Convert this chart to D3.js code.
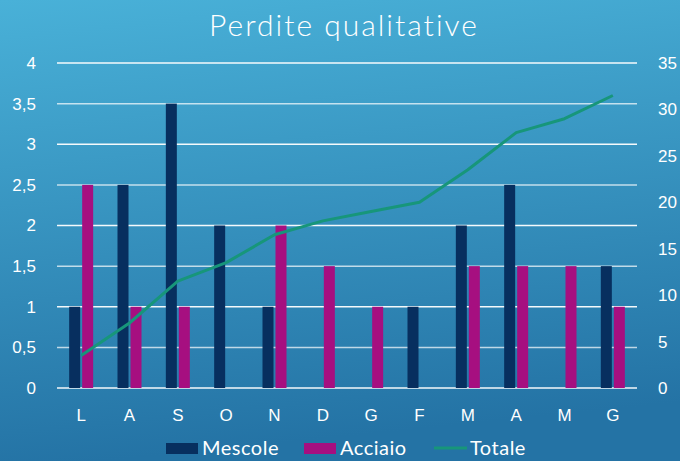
<!DOCTYPE html>
<html>
<head>
<meta charset="utf-8">
<script src="https://cdn.jsdelivr.net/npm/d3@7"></script>
<style>
  html, body { margin: 0; padding: 0; }
  body { width: 680px; height: 461px; overflow: hidden; font-family: "Lato", "Open Sans", sans-serif; }
  .axis text { fill: #fff; font-size: 17px; }
</style>
</head>
<body>
<div id="chart"></div>
<script>
var months = ['L', 'A', 'S', 'O', 'N', 'D', 'G', 'F', 'M', 'A', 'M', 'G'];
var mescole = [1, 2.5, 3.5, 2, 1, 0, 0, 1, 2, 2.5, 0, 1.5];
var acciaio = [2.5, 1, 1, 0, 2, 1.5, 1, 0, 1.5, 1.5, 1.5, 1];
var totale = [3.5, 7, 11.5, 13.5, 16.5, 18, 19, 20, 23.5, 27.5, 29, 31.5];
var leftTicks = [0, 0.5, 1, 1.5, 2, 2.5, 3, 3.5, 4];
var rightTicks = [0, 5, 10, 15, 20, 25, 30, 35];

var width = 680, height = 461;
var margin = { top: 63, right: 43, bottom: 73, left: 57 };
var innerW = width - margin.left - margin.right;
var innerH = height - margin.top - margin.bottom;

var colors = { mescole: '#072f5f', acciaio: '#a60f80', totale: '#17967a' };

var svg = d3.select('#chart').append('svg')
  .attr('width', width)
  .attr('height', height);

var grad = svg.append('defs').append('linearGradient')
  .attr('id', 'bg').attr('x1', 0).attr('y1', 0).attr('x2', 0.15).attr('y2', 1);
grad.append('stop').attr('offset', '0%').attr('stop-color', '#49b1d8');
grad.append('stop').attr('offset', '100%').attr('stop-color', '#2473a5');

svg.append('rect').attr('width', width).attr('height', height).attr('fill', 'url(#bg)');

svg.append('text')
  .attr('x', width / 2 + 4).attr('y', 36)
  .attr('text-anchor', 'middle')
  .attr('fill', '#fff')
  .style('font-size', '30px')
  .style('font-weight', 300)
  .style('letter-spacing', '2px')
  .text('Perdite qualitative');

var g = svg.append('g').attr('transform', 'translate(' + margin.left + ',' + margin.top + ')');

var x = d3.scaleBand().domain(d3.range(months.length)).range([0, innerW]);
var y = d3.scaleLinear().domain([0, 4]).range([innerH, 0]);
var y2 = d3.scaleLinear().domain([0, 35]).range([innerH, 0]);
var fmt = function(d) { return String(d).replace('.', ','); };

// gridlines
g.append('g').selectAll('line')
  .data(leftTicks)
  .enter().append('line')
  .attr('x1', 0).attr('x2', innerW)
  .attr('y1', function(d) { return y(d); })
  .attr('y2', function(d) { return y(d); })
  .attr('stroke', '#fff')
  .attr('stroke-opacity', function(d, i) { return i % 2 ? 0.7 : 0.95; })
  .attr('stroke-width', 1.5);

// axes
var yAxis = g.append('g').attr('class', 'axis')
  .attr('transform', 'translate(-18,0)')
  .call(d3.axisLeft(y).tickValues(leftTicks).tickFormat(fmt).tickSize(0));
var y2Axis = g.append('g').attr('class', 'axis')
  .attr('transform', 'translate(' + (innerW + 18) + ',0)')
  .call(d3.axisRight(y2).tickValues(rightTicks).tickSize(0));
var xAxis = g.append('g').attr('class', 'axis')
  .attr('transform', 'translate(0,' + (innerH + 15) + ')')
  .call(d3.axisBottom(x).tickFormat(function(i) { return months[i]; }).tickSize(0));
g.selectAll('.axis .domain').remove();
xAxis.selectAll('text').attr('dy', '0.9em');

// bars
var bw = 11, gap = 2;
g.append('g').selectAll('rect')
  .data(mescole)
  .enter().append('rect')
  .attr('x', function(d, i) { return x(i) + x.bandwidth() / 2 - bw - gap / 2; })
  .attr('y', function(d) { return y(d); })
  .attr('width', bw)
  .attr('height', function(d) { return innerH - y(d); })
  .attr('fill', colors.mescole);
g.append('g').selectAll('rect')
  .data(acciaio)
  .enter().append('rect')
  .attr('x', function(d, i) { return x(i) + x.bandwidth() / 2 + gap / 2; })
  .attr('y', function(d) { return y(d); })
  .attr('width', bw)
  .attr('height', function(d) { return innerH - y(d); })
  .attr('fill', colors.acciaio);

// line
var line = d3.line()
  .x(function(d, i) { return x(i) + x.bandwidth() / 2; })
  .y(function(d) { return y2(d); });
g.append('path')
  .datum(totale)
  .attr('d', line)
  .attr('fill', 'none')
  .attr('stroke', colors.totale)
  .attr('stroke-width', 3)
  .attr('stroke-linejoin', 'round');

// legend
var leg = svg.append('g').attr('transform', 'translate(0,448)');
var items = [
  { name: 'Mescole', color: colors.mescole, type: 'rect', x: 166 },
  { name: 'Acciaio', color: colors.acciaio, type: 'rect', x: 304 },
  { name: 'Totale', color: colors.totale, type: 'line', x: 434 }
];
items.forEach(function(it) {
  if (it.type === 'rect') {
    leg.append('rect').attr('x', it.x).attr('y', -5).attr('width', 32).attr('height', 11).attr('fill', it.color);
  } else {
    leg.append('line').attr('x1', it.x).attr('x2', it.x + 33).attr('y1', 0).attr('y2', 0)
      .attr('stroke', it.color).attr('stroke-width', 3);
  }
  leg.append('text')
    .attr('x', it.x + 36).attr('y', 0).attr('dy', '0.35em')
    .attr('fill', '#fff')
    .style('font-size', '20px')
    .style('letter-spacing', '0.5px')
    .text(it.name);
});
</script>
</body>
</html>
